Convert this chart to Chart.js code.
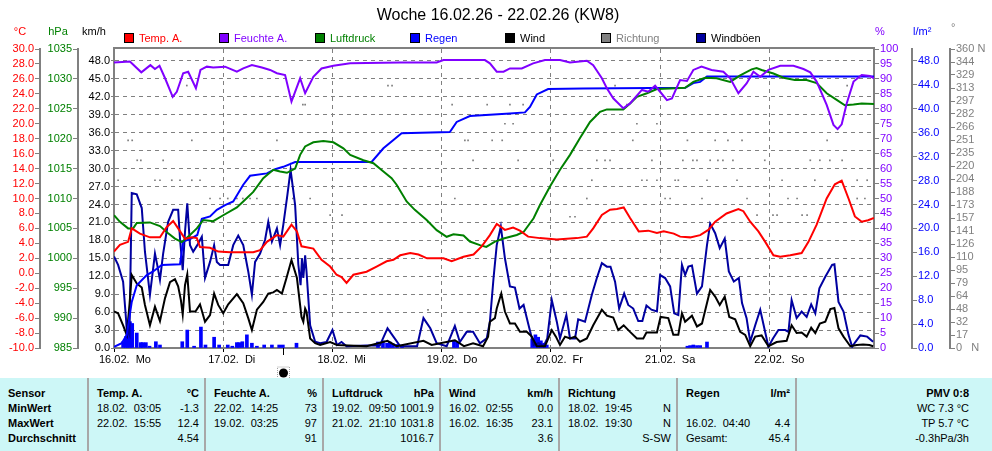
<!DOCTYPE html>
<html>
<head>
<meta charset="utf-8">
<script src="https://cdn.jsdelivr.net/npm/chart.js@4.4.1/dist/chart.umd.min.js"></script>
<style>
  html, body { margin: 0; padding: 0; background: #fff; }
  #wrap { width: 992px; height: 378px; }
  #stats { position: relative; width: 992px; height: 73px; background: #cdf7f7;
           font: 11px 'Liberation Sans', Arial, sans-serif; color: #000; }
  .col { position: absolute; top: 0; height: 73px; box-sizing: border-box; padding: 8px 6px 0 8px; }
  .sep { border-left: 2px solid #a8a8a8; }
  .r { display: flex; justify-content: space-between; height: 15px; line-height: 15px; white-space: pre; }
  .b { font-weight: bold; }
</style>
</head>
<body>
<div id="wrap"><canvas id="c" width="992" height="378"></canvas></div>
<div id="stats">
  <div class="col" style="left:0;width:88px">
    <div class="r b">Sensor</div><div class="r b">MinWert</div><div class="r b">MaxWert</div><div class="r b">Durchschnitt</div>
  </div>
  <div class="col sep" style="left:87px;width:118px">
    <div class="r b"><span>Temp. A.</span><span>°C</span></div>
    <div class="r"><span>18.02.  03:05</span><span>-1.3</span></div>
    <div class="r"><span>22.02.  15:55</span><span>12.4</span></div>
    <div class="r"><span></span><span>4.54</span></div>
  </div>
  <div class="col sep" style="left:204px;width:119px">
    <div class="r b"><span>Feuchte A.</span><span>%</span></div>
    <div class="r"><span>22.02.  14:25</span><span>73</span></div>
    <div class="r"><span>19.02.  03:25</span><span>97</span></div>
    <div class="r"><span></span><span>91</span></div>
  </div>
  <div class="col sep" style="left:322px;width:118px">
    <div class="r b"><span>Luftdruck</span><span>hPa</span></div>
    <div class="r"><span>19.02.  09:50</span><span>1001.9</span></div>
    <div class="r"><span>21.02.  21:10</span><span>1031.8</span></div>
    <div class="r"><span></span><span>1016.7</span></div>
  </div>
  <div class="col sep" style="left:439px;width:120px">
    <div class="r b"><span>Wind</span><span>km/h</span></div>
    <div class="r"><span>16.02.  02:55</span><span>0.0</span></div>
    <div class="r"><span>16.02.  16:35</span><span>23.1</span></div>
    <div class="r"><span></span><span>3.6</span></div>
  </div>
  <div class="col sep" style="left:558px;width:119px">
    <div class="r b"><span>Richtung</span><span></span></div>
    <div class="r"><span>18.02.  19:45</span><span>N</span></div>
    <div class="r"><span>18.02.  19:30</span><span>N</span></div>
    <div class="r"><span></span><span>S-SW</span></div>
  </div>
  <div class="col sep" style="left:676px;width:120px">
    <div class="r b"><span>Regen</span><span>l/m²</span></div>
    <div class="r"><span></span><span></span></div>
    <div class="r"><span>16.02.  04:40</span><span>4.4</span></div>
    <div class="r"><span>Gesamt:</span><span>45.4</span></div>
  </div>
  <div class="col sep" style="left:795px;width:197px;padding-right:23px">
    <div class="r b"><span></span><span>PMV 0:8</span></div>
    <div class="r"><span></span><span>WC 7.3 °C</span></div>
    <div class="r"><span></span><span>TP 5.7 °C</span></div>
    <div class="r"><span></span><span>-0.3hPa/3h</span></div>
  </div>
</div>
<script>
// hours since 16.02. 00:00
const titleText = 'Woche 16.02.26 - 22.02.26 (KW8)';
const dayTicks = [0, 24, 48, 72, 96, 120, 144];
const dayLabels = ['16.02.  Mo', '17.02.  Di', '18.02.  Mi', '19.02.  Do', '20.02.  Fr', '21.02.  Sa', '22.02.  So'];

const tempTicks = [-10, -8, -6, -4, -2, 0, 2, 4, 6, 8, 10, 12, 14, 16, 18, 20, 22, 24, 26, 28, 30];
const pressTicks = [985, 990, 995, 1000, 1005, 1010, 1015, 1020, 1025, 1030, 1035];
const windTicks = [0, 3, 6, 9, 12, 15, 18, 21, 24, 27, 30, 33, 36, 39, 42, 45, 48];
const humTicks = [0, 5, 10, 15, 20, 25, 30, 35, 40, 45, 50, 55, 60, 65, 70, 75, 80, 85, 90, 95, 100];
const rainTicks = [0, 4, 8, 12, 16, 20, 24, 28, 32, 36, 40, 44, 48];
const dirLabels = ['0   N', '17', '32', '48', '64', '79', '95', '110', '126', '141', '157', '173',
                   '188', '204', '220', '235', '251', '266', '282', '297', '313', '329', '344', '360 N'];

const moonHour = 37.2;

const tempSeries = [[0,2.9],[1.3,3.8],[3.1,4.2],[3.9,6.0],[5.7,5.3],[7.9,4.8],[10.1,4.8],[11.6,6.2],[13,7.0],[14.1,6.0],
  [15.6,4.6],[17.1,4.8],[18.2,4.7],[18.9,3.5],[21.1,3.4],[22.9,2.9],[25.5,2.8],[28.4,2.8],[30.6,2.8],[32.1,3.1],
  [33.6,4.2],[35.8,5.1],[37.2,4.9],[39,6.5],[40.2,5.6],[41.2,3.6],[43.8,3.3],[45.6,1.8],[47.5,0.9],[48.9,-0.2],
  [50,-0.5],[51.1,-1.3],[52.6,-0.2],[55.5,0.2],[57.7,0.9],[59.9,1.6],[61.4,1.8],[62.9,2.4],[65.1,2.7],[66.9,2.5],
  [68.8,2.0],[72.4,2.0],[74.2,1.6],[76.8,2.2],[79,2.5],[80.8,3.6],[82.6,5.1],[84.1,6.6],[85.9,5.8],[87.7,6.1],
  [89.2,5.7],[91,4.9],[93.6,4.7],[97.3,4.5],[101.7,4.7],[103.9,4.9],[105.3,6.0],[107.2,7.8],[109,8.5],[110.5,8.6],
  [112,8.8],[113.4,7.4],[115.3,5.6],[117.4,5.7],[119.3,5.4],[120.8,5.6],[123,5.3],[124.4,4.9],[126.6,4.8],[128.8,5.1],
  [130.6,5.8],[132.1,6.9],[134.6,8.0],[137.2,8.6],[138.3,8.3],[139.8,6.9],[141.6,5.6],[143.1,4.2],[144.9,2.4],[146.4,2.2],
  [148.6,2.4],[151.1,2.7],[152.6,4.2],[154.4,6.5],[156.6,10.0],[158.4,11.9],[159.9,12.4],[161.4,10.0],[162.8,7.6],[164.3,6.9],
  [165.7,7.1],[167,7.4]];

const humSeries = [[0,95.5],[3.5,95.8],[6,92.2],[8,94.6],[9,93.3],[10,94.4],[11.2,90.3],[12.9,84],[13.8,85.7],[15.2,91.9],
  [16.3,92.4],[18,86.9],[19,93],[20.4,94.1],[21.8,93.8],[24.4,94.1],[27,92.4],[28.4,93.5],[30.3,94.6],[32.5,93.8],
  [34.3,93],[35.8,91.9],[37.6,91.3],[39,82.4],[40.9,90.2],[42,85.2],[43.8,90.7],[45.6,93.5],[48.2,94.4],[51.9,95.2],
  [62.9,95.5],[70.9,95.5],[72.4,96.3],[81.5,96.3],[82.6,95.2],[84.1,92.4],[85.6,92.4],[87,93.5],[89.6,93.5],[92.1,95.2],
  [94.7,96.3],[98,96.3],[100.2,95.5],[103.9,96.1],[105.3,94.6],[107.2,90.2],[108.3,86.9],[109.7,83.5],[111.9,80.2],[113.4,81.8],
  [116,86.3],[117.4,85.7],[118.9,87.7],[120,85.7],[121.5,82.9],[122.6,83.5],[123.6,86.9],[124.4,89.6],[125.9,89.3],[127.3,93],
  [129.1,94.1],[131.3,93],[133.9,92.4],[135.4,90.2],[137.2,85.2],[139,88.5],[140.5,92.4],[142,90.7],[143.8,93],[146.4,94.4],
  [149.3,94.4],[151.5,93.3],[153,92.2],[154.4,89.1],[156.6,81.3],[158.1,74.6],[159,73.2],[159.9,74.8],[161,81.8],[162.5,89.1],
  [164.3,91.3],[166.1,91],[167,90.2]];

const pressSeries = [[0,1007.2],[1.3,1006.1],[3.1,1005.0],[4.2,1005.0],[5,1005.9],[7.9,1006.0],[10.1,1005.4],[11.9,1004.2],
  [13.4,1003.3],[14.9,1002.7],[16.7,1003.9],[18.2,1005.0],[19.6,1006.4],[21.8,1006.2],[24,1007.2],[27,1008.5],[28.4,1009.5],
  [30.6,1011.1],[32.8,1013.4],[35,1014.8],[36.5,1014.5],[38,1014.3],[39.8,1015.0],[40.9,1017.3],[42,1018.7],[43.8,1019.4],
  [46,1019.6],[48.2,1019.4],[50.4,1018.4],[51.9,1017.3],[54.8,1016.4],[57,1015.9],[59.2,1014.5],[61,1013.4],[62.1,1012.3],
  [64.3,1009.5],[66.1,1008.1],[68.7,1006.4],[70.9,1004.7],[73.1,1003.6],[74.6,1004.0],[76.8,1003.8],[78.2,1002.8],[80.4,1002.2],
  [81.8,1001.9],[83.7,1002.8],[85.6,1003.3],[88.5,1003.9],[90,1004.4],[92.2,1006.7],[93.6,1008.9],[95.8,1012.0],[98,1014.8],
  [100.2,1017.3],[102.4,1020.1],[104.6,1022.8],[106.8,1024.5],[108.3,1024.9],[111.9,1024.9],[113.4,1025.9],[114.9,1027.0],
  [117.1,1027.6],[119.3,1028.3],[122.2,1028.4],[125.5,1028.5],[127.3,1029.5],[129.9,1030.2],[132.4,1030.1],[135.4,1029.5],
  [137.6,1030.6],[140.1,1031.6],[141.2,1031.8],[142.3,1031.5],[144.9,1030.9],[147.1,1030.2],[149.6,1029.8],[152.2,1029.8],
  [154.4,1029.3],[156.6,1027.6],[158.8,1026.5],[160.6,1025.6],[162.5,1025.7],[164.3,1025.9],[167,1025.8]];

const rainSumSeries = [[0,0.2],[1.7,0.8],[2.8,2.2],[3.9,7.7],[5,10.5],[7.2,12.2],[8.6,12.8],[10.5,13.9],[14.5,14.0],[15.2,17.8],
  [16.7,18.2],[18.3,18.9],[19.3,21.6],[21.1,22.0],[22.6,23.1],[24.4,23.9],[26.2,24.5],[28.4,27.3],[29.9,28.8],[33.6,29.2],
  [35.4,29.9],[37.2,30.3],[39.8,31.1],[56.6,31.1],[59.2,33.4],[61.4,34.8],[63.2,35.9],[73.8,36.1],[75.3,37.8],[78.2,38.8],
  [87,39.2],[90.3,39.4],[91.4,40.3],[92.9,42.4],[95.4,43.3],[103.1,43.4],[125.5,43.5],[127.3,44.3],[128.8,44.5],[130.3,45.4],
  [167,45.4]];

const rainBarSeries = [[2.0,1.05],[2.6,1.9],[3.0,4.2],[3.5,4.4],[4.0,4.1],[5.0,2.5],[5.9,0.9],[6.3,0.9],[7.0,0.9],[7.8,0.3],
  [9.2,1.05],[10.1,0.5],[15.0,1.05],[16.1,3.0],[17.6,0.3],[19.1,3.5],[20.1,0.5],[22.0,1.8],[23.1,0.5],[25.0,0.5],
  [26.0,0.3],[27.0,0.9],[27.5,0.9],[28.2,1.05],[29.2,2.2],[30.3,0.8],[31.4,0.3],[33.0,0.5],[34.7,0.5],[36.3,0.5],
  [37.1,0.5],[40.1,0.8],[58.0,1.0],[59.1,1.2],[60.0,0.8],[60.6,1.0],[61.3,0.7],[62.2,0.6],[63.3,0.5],[74.7,1.3],
  [75.4,1.0],[91.9,1.5],[92.6,2.2],[93.2,1.8],[93.8,1.2],[94.5,0.8],[95.1,0.5],[126,0.3],[126.6,0.4],[127.3,0.5],
  [128.1,0.4],[128.8,0.4],[130.3,1.0]];

const gustSeries = [[0,15.3],[0.9,13.9],[2,11.1],[2.8,3.3],[3.4,2.2],[3.9,25.9],[5,25.7],[6.1,23.4],[6.8,16.1],[7.9,8.9],
  [9,15.8],[9.5,13.9],[10.1,11.4],[10.8,15.8],[11.9,21.1],[13,23.1],[14.1,23.1],[14.5,18.3],[15.1,13.0],[15.6,19.4],
  [16.1,24.2],[16.7,17.2],[17.4,16.1],[18.3,17.2],[19.3,18.6],[20,11.7],[21.1,14.4],[22,17.2],[22.6,14.4],[23.3,13.9],
  [25.1,13.9],[26.2,17.2],[27.3,18.8],[28.4,17.2],[29.5,12.8],[30.3,8.9],[31,14.4],[32.1,15.8],[33.2,18.1],[33.9,21.1],
  [34.7,17.8],[35.8,20.0],[36.5,17.2],[37.2,20.6],[38.1,25.6],[38.8,29.8],[39.8,23.9],[40.5,14.0],[41,10.5],[41.3,15.0],
  [41.6,11.7],[42,15.5],[42.3,12.8],[43.1,3.8],[44.2,1.05],[45.3,0.8],[46.7,1.0],[48,3.0],[49,0.5],[50,1.0],
  [51.1,0.3],[55.5,0.4],[58.4,0.4],[60.1,3.3],[61.4,1.9],[62.9,0.3],[66.6,0.3],[68,5.0],[69.5,3.3],[70.9,0.8],
  [73.1,0.3],[74.9,3.7],[76,1.0],[77.5,2.7],[78.9,2.7],[80.4,0.8],[81.9,1.6],[82.6,4.4],[83.4,11.7],[84.1,17.2],
  [85,20.3],[85.9,15.0],[87,10.3],[88.1,10.1],[89.1,6.6],[90,7.2],[91.1,3.8],[92.2,0.5],[93.3,0.8],[94.4,0.3],
  [95.2,1.6],[96.2,8.0],[97.3,4.4],[98,1.6],[99.4,5.5],[100.2,1.6],[101.3,1.6],[102,4.8],[103.5,4.4],[105,8.9],
  [106.1,11.7],[107.2,14.2],[108.3,13.6],[109.1,13.6],[110.1,11.1],[111,6.6],[112.1,9.1],[113,7.2],[114.1,6.6],[115.2,4.5],
  [116.1,4.5],[117,7.1],[118.1,6.4],[119.3,6.1],[120,12.2],[121.1,11.7],[122.2,10.3],[123.1,5.8],[124,5.5],[124.8,13.9],
  [125.5,12.2],[126.2,13.6],[127,13.8],[128.1,9.1],[129.2,10.3],[130.3,17.2],[131,20.8],[132.1,19.2],[133.1,16.7],[134.2,18.3],
  [135.1,12.8],[136.2,11.1],[137.3,11.7],[138,7.5],[139,5.0],[139.8,1.05],[140.9,3.8],[142,6.4],[142.9,3.3],[143.8,0.2],
  [144.8,1.6],[146,3.0],[147.5,3.0],[148.2,2.7],[148.9,8.0],[150,5.0],[151.1,6.1],[152.2,5.2],[153.2,7.3],[154.1,5.8],
  [155,10.0],[156.3,11.9],[157.8,13.9],[158.3,14.0],[159.2,7.7],[160.3,6.1],[161.4,2.2],[162.2,0.2],[162.9,1.0],[164,2.1],
  [165.5,1.9],[166.8,1.05]];

const windSeries = [[0,6.1],[0.9,5.8],[2,3.8],[2.8,2.2],[3.4,7.2],[3.9,12.2],[5,10.8],[6.1,10.1],[6.8,7.2],[7.9,3.8],
  [9,6.9],[10.1,4.5],[11.2,8.3],[12.3,11.0],[13.4,11.5],[14.1,10.3],[14.7,8.0],[15.1,5.6],[15.6,10.5],[16.1,12.3],
  [16.7,6.1],[17.9,6.1],[18.9,7.3],[20,4.4],[21.1,5.5],[22,9.1],[22.9,7.2],[24,5.8],[25.1,7.3],[27,9.0],
  [28.4,7.5],[29.5,5.0],[30.3,3.0],[31.4,6.4],[32.8,7.7],[33.9,9.1],[35,9.3],[35.8,9.7],[36.9,9.1],[37.9,11.7],
  [39,14.7],[40.2,11.7],[41.2,5.2],[41.6,4.4],[42,6.6],[42.3,6.1],[43.1,1.6],[44.2,0.8],[45.3,0.5],[47.5,1.0],
  [49,0.5],[55.5,0.3],[60.1,1.2],[62.1,0.3],[68,1.2],[69.8,0.5],[74.9,1.3],[76.9,0.3],[78.9,0.8],[81.1,0.3],
  [82.2,1.9],[82.6,4.4],[83.7,5.0],[84.1,6.6],[85.1,9.1],[85.9,6.1],[87,4.1],[88.1,4.1],[89.2,2.7],[90.7,2.7],
  [91.8,1.9],[92.9,0.3],[94.7,0.3],[96.2,3.0],[97.1,1.9],[98,0.5],[99.1,1.9],[100.2,1.6],[101.3,1.9],[102.4,1.05],
  [103.9,1.6],[105.3,3.8],[107.2,6.4],[108.3,5.4],[109.7,5.1],[110.8,3.0],[112,3.8],[113.4,2.7],[114.9,1.6],[116.3,1.6],
  [117,2.6],[119.3,2.6],[120.1,5.2],[121.8,5.0],[122.9,2.2],[124,2.2],[124.8,5.8],[125.5,4.4],[127,5.4],[128.1,3.6],
  [129.2,4.1],[131,9.7],[132.1,8.6],[133.1,7.2],[134.2,8.6],[135.2,5.2],[136.5,4.8],[137.6,2.7],[138.7,2.2],[139.8,0.3],
  [140.9,1.9],[142.3,2.1],[143.8,0.3],[145.6,1.0],[147.8,1.2],[148.9,3.8],[150,2.5],[151.1,2.6],[152.2,1.9],[153.2,3.4],
  [154.1,2.5],[155.1,4.1],[156.3,4.4],[157.4,6.5],[158.3,6.7],[159.2,3.3],[160.3,1.9],[161.8,0.3],[163.2,0.5],[164.6,0.6],
  [166,0.5],[166.8,0.3]];

const dirSeries = [[0.9,202],[3.1,250],[4.0,250],[5.1,226],[5.9,226],[9.0,202],[10.1,202],[10.8,226],[12.7,202],[14.5,202],
  [16.0,316],[17.1,202],[17.1,250],[18.9,202],[21.1,180],[23.3,180],[25.0,180],[27.0,180],[28.3,180],[29.9,180],
  [31.4,180],[34.3,226],[34.9,226],[35.8,250],[38.0,180],[39.3,180],[41.5,293],[42.0,293],[43.1,180],[47.5,160],
  [50.1,160],[60.2,316],[61.1,316],[69.0,46],[74.3,293],[74.9,180],[77.1,250],[77.8,250],[78.9,226],[82.0,293],
  [83.1,250],[85.3,250],[85.9,270],[87.0,293],[87.7,270],[88.8,226],[89.9,293],[96.5,226],[100.2,158],[101.3,158],
  [103.9,180],[105.0,202],[106.1,226],[107.9,226],[109.0,226],[110.1,316],[112.7,293],[114.0,250],[114.9,270],[116.0,202],
  [117.1,202],[118.2,226],[119.3,202],[119.3,270],[121.1,180],[122.2,180],[123.3,202],[124.0,202],[125.0,226],[126.0,250],
  [127.2,226],[128.1,226],[129.2,180],[130.3,202],[131.0,226],[132.1,250],[132.7,226],[133.8,226],[134.9,250],[136.0,226],
  [136.9,202],[138.0,250],[139.1,180],[141.3,160],[143.0,226],[144.8,160],[145.7,160],[146.8,202],[148.1,180],[150.1,180],
  [151.2,160],[152.3,160],[153.0,226],[154.0,202],[155.1,226],[156.7,250],[157.3,226],[160.0,226],[161.1,316],[163.3,202],
  [163.3,180],[165.0,180],[165.5,202]];

const legendItems = [
  ['Temp. A.', '#ff0000', '#ff0000'],
  ['Feuchte A.', '#8000ff', '#8000ff'],
  ['Luftdruck', '#008000', '#008000'],
  ['Regen', '#0000ff', '#0000ff'],
  ['Wind', '#000000', '#000000'],
  ['Richtung', '#808080', '#808080'],
  ['Windböen', '#0000a0', '#000000']
];

const FONT = "'Liberation Sans', Arial, sans-serif";
const GRAY = '#808080';

const toXY = arr => arr.map(p => ({ x: p[0], y: p[1] }));
const oneDec = v => v.toFixed(1);
const whole = v => String(Math.round(v));

function lineSet(label, arr, color, axis) {
  return { type: 'line', label: label, data: toXY(arr), borderColor: color, backgroundColor: color,
           borderWidth: 2, pointRadius: 0, tension: 0, fill: false, yAxisID: axis };
}

function yAxis(pos, weight, width, min, max, ticks, color, fmt, tickLen) {
  return {
    type: 'linear', position: pos, weight: weight, min: min, max: max,
    afterBuildTicks: s => { s.ticks = ticks.map(v => ({ value: v })); },
    afterFit: s => { s.width = width; },
    ticks: { color: color, padding: 1, autoSkip: false, font: { family: FONT, size: 11 }, callback: fmt },
    grid: { drawOnChartArea: false, offset: false, color: GRAY, tickLength: tickLen || 5, tickBorderDash: [] },
    border: { color: GRAY, width: 2 }
  };
}

const units = [
  ['yT', '°C', '#ff0000'], ['yP', 'hPa', '#008000'], ['yW', 'km/h', '#000000'],
  ['yH', '%', '#8000ff'], ['yR', 'l/m²', '#0000ff'], ['yD', '°', GRAY]
];

const decor = {
  id: 'decor',
  afterDraw(chart) {
    const ctx = chart.ctx, a = chart.chartArea;
    ctx.save();
    // title
    ctx.fillStyle = '#000';
    ctx.font = '16px ' + FONT;
    ctx.textAlign = 'center';
    ctx.textBaseline = 'alphabetic';
    ctx.fillText(titleText, chart.width / 2 + 2, 20);

    // legend
    ctx.font = '11px ' + FONT;
    ctx.textAlign = 'left';
    legendItems.forEach((it, i) => {
      const x = Math.round(a.left + 10 + i * 95.3);
      ctx.fillStyle = it[1];
      ctx.fillRect(x, 33, 10, 10);
      ctx.strokeStyle = '#000';
      ctx.lineWidth = 1;
      ctx.strokeRect(x + 0.5, 33.5, 9, 9);
      ctx.fillStyle = it[2];
      ctx.fillText(it[0], x + 15, 42);
    });

    // unit captions over the axes
    units.forEach(u => {
      const s = chart.scales[u[0]];
      ctx.fillStyle = u[2];
      if (s.position === 'left') {
        ctx.textAlign = 'center';
        ctx.fillText(u[1], s.right - 20, 35);
      } else {
        ctx.textAlign = 'left';
        ctx.fillText(u[1], s.left + 1, u[1] === '°' ? 31 : 35);
      }
    });

    // top frame line
    ctx.strokeStyle = GRAY;
    ctx.lineWidth = 2;
    ctx.beginPath();
    ctx.moveTo(a.left - 1, a.top - 1);
    ctx.lineTo(a.right + 1, a.top - 1);
    ctx.stroke();

    // moon phase marker
    const mx = Math.round(chart.scales.x.getPixelForValue(moonHour)) + 0.5;
    ctx.strokeStyle = '#000';
    ctx.lineWidth = 1;
    ctx.beginPath();
    ctx.moveTo(mx, a.bottom);
    ctx.lineTo(mx, a.bottom + 7);
    ctx.stroke();
    ctx.fillStyle = '#000';
    ctx.beginPath();
    ctx.arc(mx, a.bottom + 25, 4.5, 0, Math.PI * 2);
    ctx.fill();
    ctx.strokeStyle = '#a0a0a0';
    ctx.setLineDash([1, 1]);
    ctx.strokeRect(mx - 6, a.bottom + 19, 12, 12);
    ctx.restore();
  }
};

new Chart(document.getElementById('c'), {
  type: 'line',
  data: {
    datasets: [
      lineSet('Temp. A.', tempSeries, '#ff0000', 'yT'),
      lineSet('Feuchte A.', humSeries, '#8000ff', 'yH'),
      lineSet('Luftdruck', pressSeries, '#008000', 'yP'),
      lineSet('Regen', rainSumSeries, '#0000ff', 'yR'),
      lineSet('Wind', windSeries, '#000000', 'yW'),
      lineSet('Windböen', gustSeries, '#0000a0', 'yW'),
      { type: 'line', label: 'Richtung', data: toXY(dirSeries), showLine: false, yAxisID: 'yD',
        pointStyle: 'rect', pointRadius: 1.2, pointBorderWidth: 0,
        pointBackgroundColor: GRAY, borderColor: GRAY, backgroundColor: GRAY },
      { type: 'bar', label: 'Regen Menge', data: toXY(rainBarSeries), yAxisID: 'yR',
        backgroundColor: '#0000ff', borderWidth: 0, barThickness: 3 }
    ]
  },
  options: {
    responsive: false,
    devicePixelRatio: 1,
    animation: false,
    events: [],
    layout: { padding: { top: 49, left: 0, right: 0, bottom: 0 } },
    plugins: { legend: { display: false }, title: { display: false }, tooltip: { enabled: false } },
    scales: {
      x: {
        type: 'linear', min: 0, max: 167, offset: false,
        afterBuildTicks: s => { s.ticks = dayTicks.map(v => ({ value: v })); },
        afterFit: s => { s.height = 30; },
        ticks: { align: 'start', labelOffset: -15, padding: 1, maxRotation: 0, autoSkip: false,
                 color: '#000', font: { family: FONT, size: 11 }, callback: (v, i) => dayLabels[i] },
        grid: { color: GRAY, offset: false, tickLength: 4, tickColor: '#000', tickBorderDash: [] },
        border: { color: GRAY, width: 2, dash: [4, 4] }
      },
      yT: yAxis('left', 3, 40, -10, 30, tempTicks, '#ff0000', oneDec),
      yP: yAxis('left', 2, 38, 985, 1035, pressTicks, '#008000', whole),
      yW: Object.assign(yAxis('left', 1, 36, 0, 50, windTicks, '#000000', oneDec, 3), {
        grid: { drawOnChartArea: true, offset: false, color: GRAY, tickLength: 3, tickBorderDash: [] },
        border: { color: GRAY, width: 2, dash: [4, 4] }
      }),
      yH: yAxis('right', 1, 38, 0, 100, humTicks, '#8000ff', whole),
      yR: yAxis('right', 2, 38, 0, 50, rainTicks, '#0000ff', oneDec),
      yD: yAxis('right', 3, 42, 0, 360, dirLabels.map((l, i) => i * 360 / 23), GRAY, (v, i) => dirLabels[i])
    }
  },
  plugins: [decor]
});
</script>
</body>
</html>
